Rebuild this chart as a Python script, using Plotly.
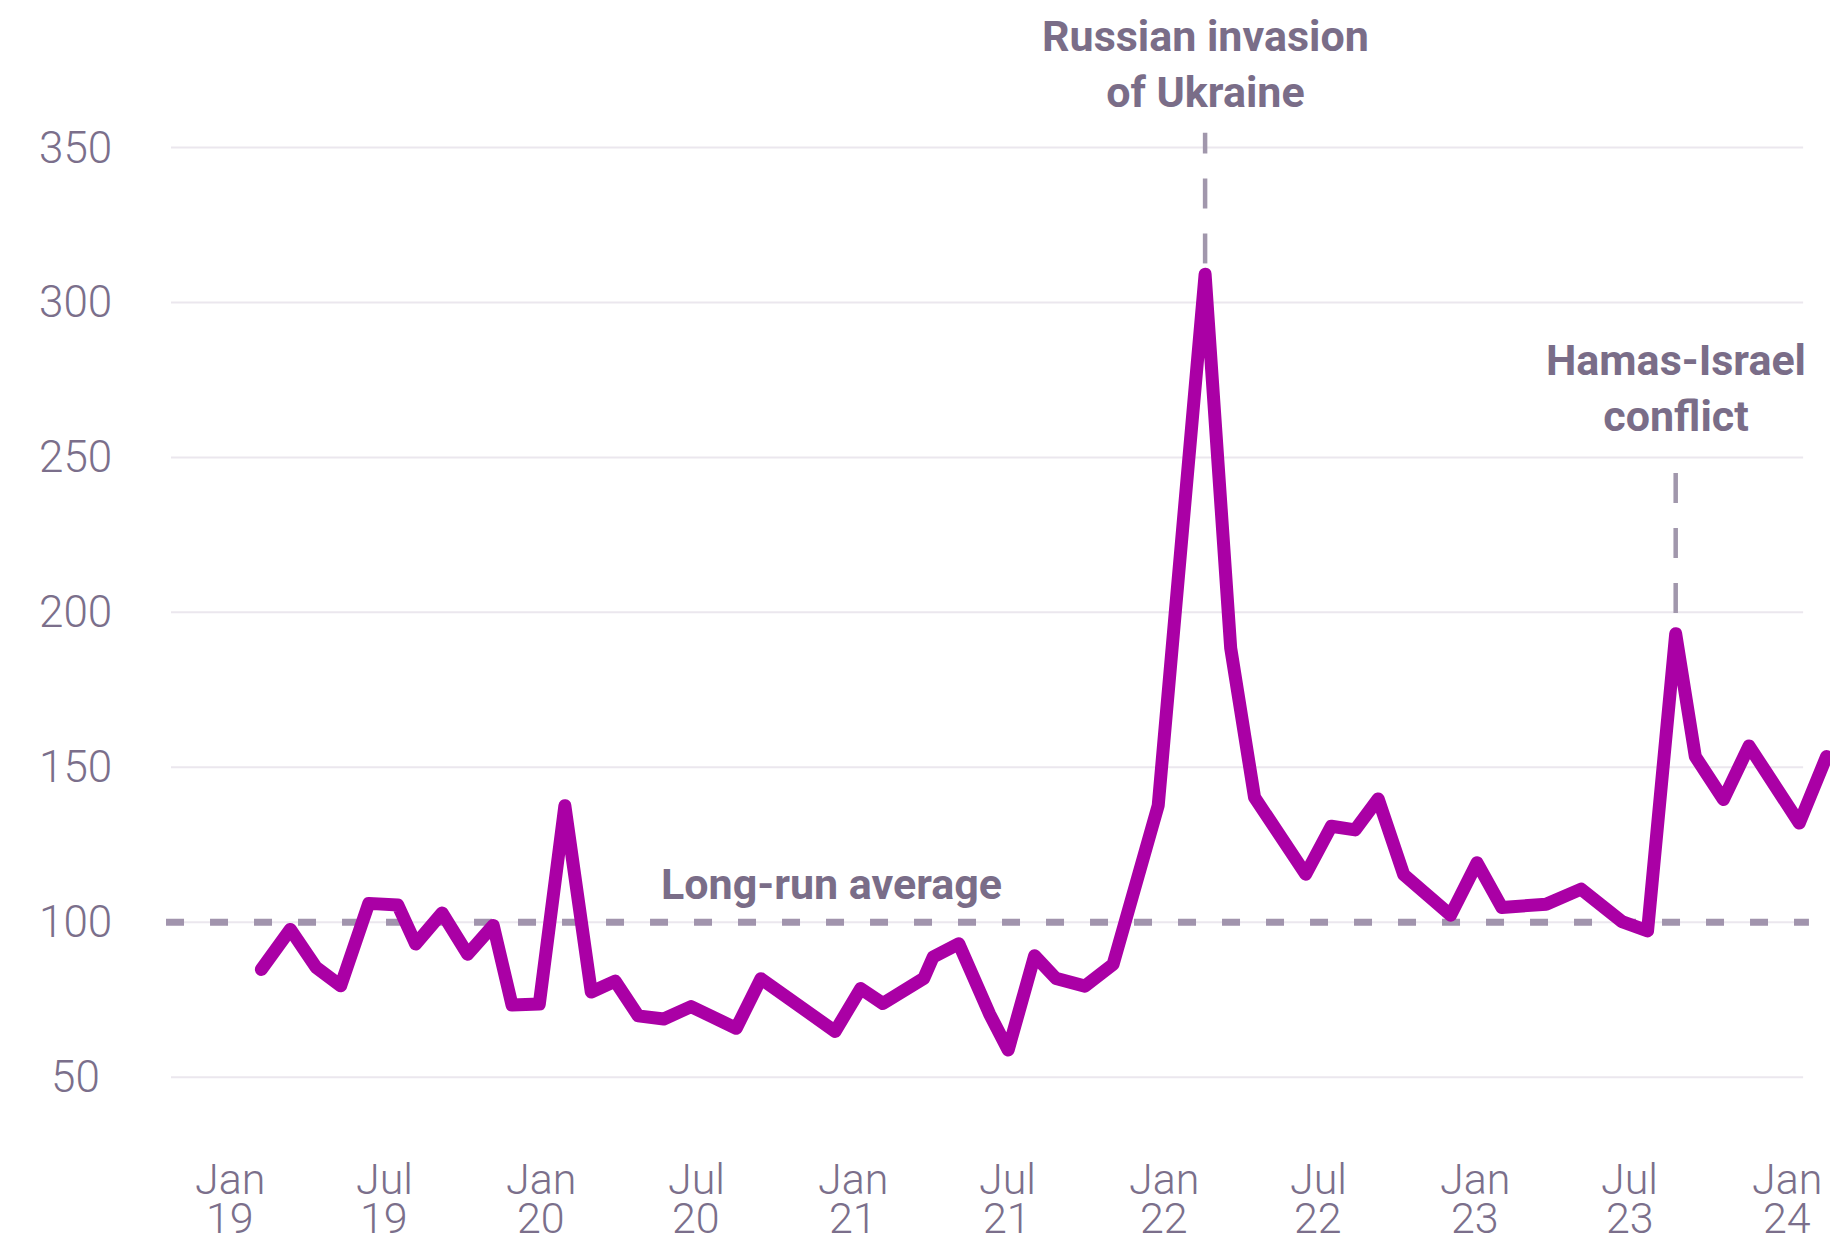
import plotly.graph_objects as go

# ---------------- data ----------------
dates = ["2019-02-07", "2019-03-13", "2019-04-12", "2019-05-11", "2019-06-13", "2019-07-17",
         "2019-08-07", "2019-09-07", "2019-10-07", "2019-11-06", "2019-11-28", "2019-12-30",
         "2020-01-29", "2020-02-29", "2020-03-28", "2020-04-24", "2020-05-24", "2020-06-25",
         "2020-08-17", "2020-09-15", "2020-12-11",
         "2021-01-10", "2021-02-05", "2021-03-25", "2021-04-05", "2021-05-05", "2021-06-10",
         "2021-07-02", "2021-08-02", "2021-08-27", "2021-09-30", "2021-11-02", "2021-12-25",
         "2022-02-18", "2022-03-20", "2022-04-17", "2022-06-16", "2022-07-16", "2022-08-13",
         "2022-09-09", "2022-10-09", "2022-12-03",
         "2023-01-03", "2023-02-01", "2023-03-25", "2023-05-05", "2023-06-22", "2023-07-22",
         "2023-08-24", "2023-09-16", "2023-10-19", "2023-11-18",
         "2024-01-16", "2024-02-17"]

values = [84.8, 97.7, 85.5, 79.5, 106.1, 105.6, 93.0, 103.0, 89.7, 99.0, 73.3, 73.6,
          137.6, 77.5, 81.0, 69.8, 68.8, 72.8, 65.8, 81.8, 64.8,
          78.6, 73.8, 81.9, 88.8, 93.1, 70.5, 58.8, 89.2, 81.9, 79.4, 86.4, 137.7,
          309.1, 188.5, 140.3, 115.5, 131.0, 129.8, 139.8, 115.4, 102.3,
          119.2, 104.8, 105.8, 110.7, 100.2, 97.2, 193.1, 153.5, 139.6, 156.9,
          132.0, 153.5]

y_ticks = [50, 100, 150, 200, 250, 300, 350]

x_tick_dates = ["2019-01-01", "2019-07-01", "2020-01-01", "2020-07-01", "2021-01-01",
                "2021-07-01", "2022-01-01", "2022-07-01", "2023-01-01", "2023-07-01",
                "2024-01-01"]
x_tick_months = ["Jan", "Jul", "Jan", "Jul", "Jan", "Jul", "Jan", "Jul", "Jan", "Jul", "Jan"]
x_tick_years = ["19", "19", "20", "20", "21", "21", "22", "22", "23", "23", "24"]

long_run_average = 100
average_label = "Long-run average"

event_dates = ["2022-02-18", "2023-08-24"]
event_labels = ["Russian invasion<br>of Ukraine", "Hamas-Israel<br>conflict"]

# ---------------- style ----------------
LINE_COLOR = "#aa00a5"
TEXT_COLOR = "#7b6f8b"
LABEL_COLOR = "#7a6d88"
DASH_COLOR = "#a194ad"
GRID_COLOR = "#ebe7ee"
LIGHT_FONT = dict(family="Roboto", size=44, color=TEXT_COLOR, weight=300)
BOLD_FONT = dict(family="Roboto", size=43, color=LABEL_COLOR, weight=700)

fig = go.Figure()
fig.add_trace(go.Scatter(
    x=dates, y=values, mode="lines",
    line=dict(color=LINE_COLOR, width=13),
    hoverinfo="skip", showlegend=False,
))

shapes = []
# gridlines (stop short of the right edge, like the reference)
for v in y_ticks:
    shapes.append(dict(type="line", xref="paper", yref="y", x0=0, x1=0.9838, y0=v, y1=v,
                       line=dict(color=GRID_COLOR, width=2), layer="below"))
# long-run average dashed line
shapes.append(dict(type="line", xref="paper", yref="y", x0=-0.003, x1=0.9873,
                   y0=long_run_average, y1=long_run_average,
                   line=dict(color=DASH_COLOR, width=7, dash="18px,26px"), layer="below"))
# event marker lines (start value, end value: dash pattern begins at the start)
event_line_spans = [(312.6, 354.8), (245.0, 195.8)]
for d, (a, b) in zip(event_dates, event_line_spans):
    shapes.append(dict(type="line", xref="x", yref="y", x0=d, x1=d, y0=a, y1=b,
                       line=dict(color="#a197ac", width=4.5, dash="30px,25px"), layer="below"))

annotations = []
# y tick labels (centred, as in the reference)
for v in y_ticks:
    annotations.append(dict(xref="paper", yref="y", x=-0.0573, y=v, text=str(v),
                            showarrow=False, xanchor="center", yanchor="middle",
                            font=LIGHT_FONT))
# x tick labels: month over two-digit year
for d, m, yr in zip(x_tick_dates, x_tick_months, x_tick_years):
    annotations.append(dict(xref="x", yref="paper", x=d, y=-0.0527, text=m,
                            showarrow=False, xanchor="center", yanchor="middle",
                            font=dict(LIGHT_FONT, size=43)))
    annotations.append(dict(xref="x", yref="paper", x=d, y=-0.0875, text=yr,
                            showarrow=False, xanchor="center", yanchor="middle",
                            font=dict(LIGHT_FONT, size=43)))
# event labels
event_label_y = [0.943, 0.654]
for d, t, yy in zip(event_dates, event_labels, event_label_y):
    annotations.append(dict(xref="x", yref="paper", x=d, y=yy, text=t, showarrow=False,
                            xanchor="center", yanchor="middle", align="center",
                            font=BOLD_FONT))
# long-run average label
annotations.append(dict(xref="x", yref="y", x="2020-12-07", y=112.4, text=average_label,
                        showarrow=False, xanchor="center", yanchor="middle", font=BOLD_FONT))

fig.update_layout(
    width=1830, height=1240,
    margin=dict(l=171, r=0, t=0, b=120),
    paper_bgcolor="white", plot_bgcolor="white",
    xaxis=dict(type="date", range=["2018-10-24", "2024-02-21"], showgrid=False,
               zeroline=False, showticklabels=False, showline=False, ticks=""),
    yaxis=dict(range=[36.2, 397.6], showgrid=False, zeroline=False,
               showticklabels=False, showline=False, ticks=""),
    shapes=shapes, annotations=annotations,
    showlegend=False,
)

post = ("var s=document.createElement('style');"
        "s.innerHTML='html,body{margin:0;padding:0;overflow:hidden;}"
        ".scatterlayer .js-line{stroke-linejoin:round!important;"
        "stroke-linecap:round!important;}';document.head.appendChild(s);")
fig.write_html("out.html", config={"displayModeBar": False}, post_script=post)
